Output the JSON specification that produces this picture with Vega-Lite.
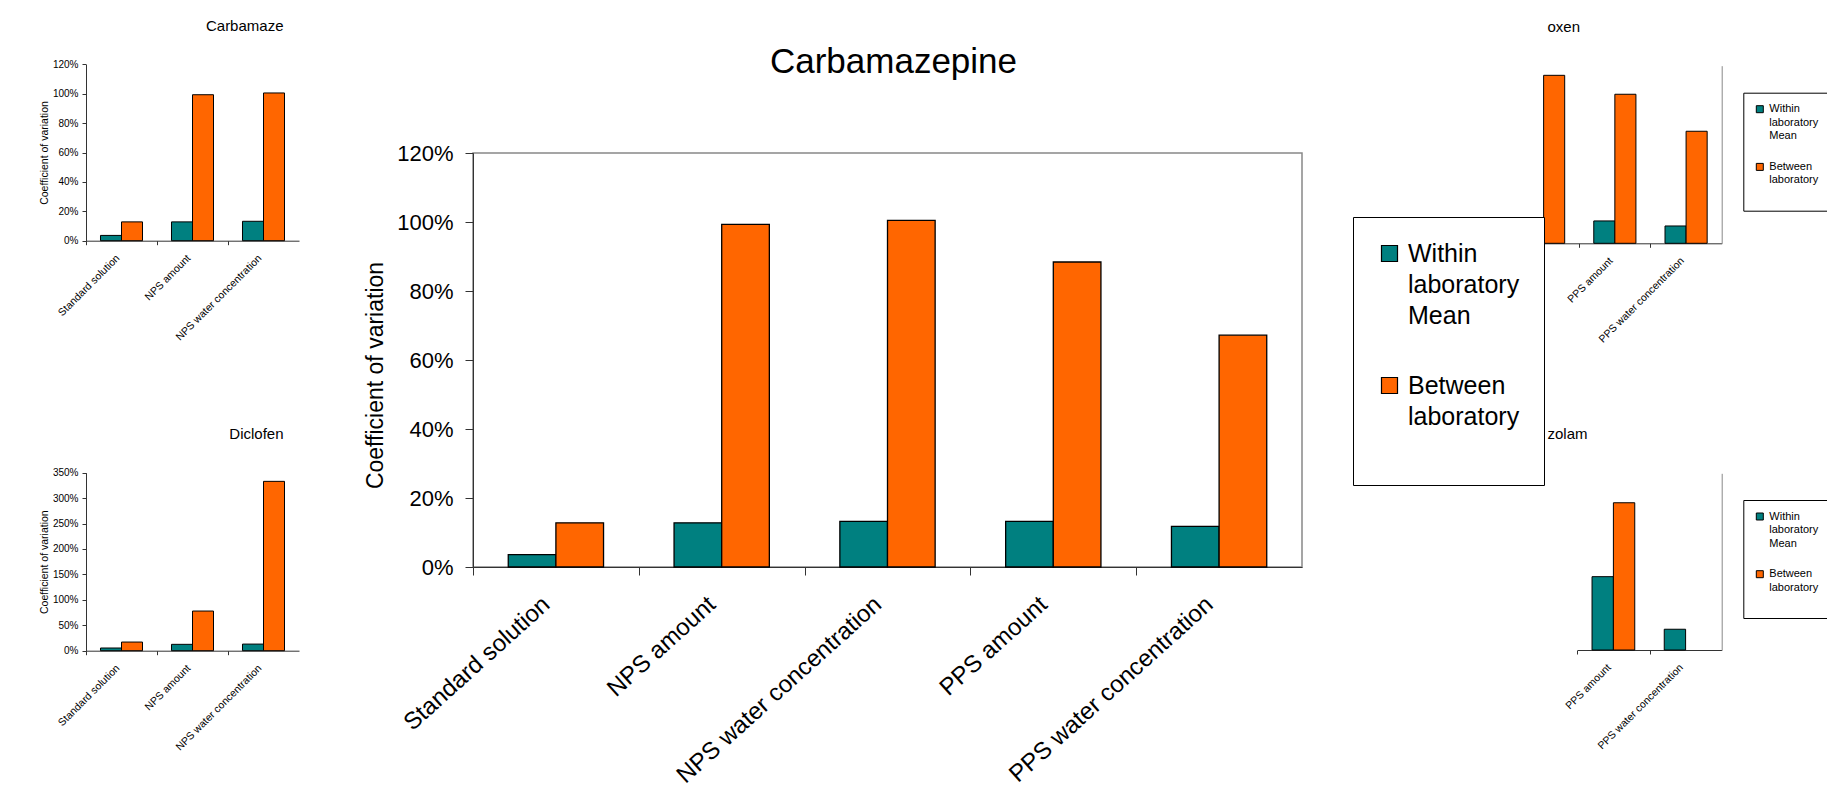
{
  "$schema": "https://vega.github.io/schema/vega-lite/v6.json",
  "autosize": {"type": "none"},
  "width": 829,
  "height": 414,
  "padding": {"left": 473, "top": 153, "right": 525, "bottom": 226},
  "background": "white",
  "config": {
    "font": "Liberation Sans",
    "view": {"stroke": "#888", "strokeWidth": 1.5}
  },
  "datasets": {
    "carbamazepine": [
      {"condition": "Standard solution", "series": "Within laboratory Mean", "cv": 0.036},
      {"condition": "Standard solution", "series": "Between laboratory", "cv": 0.128},
      {"condition": "NPS amount", "series": "Within laboratory Mean", "cv": 0.128},
      {"condition": "NPS amount", "series": "Between laboratory", "cv": 0.993},
      {"condition": "NPS water concentration", "series": "Within laboratory Mean", "cv": 0.132},
      {"condition": "NPS water concentration", "series": "Between laboratory", "cv": 1.005},
      {"condition": "PPS amount", "series": "Within laboratory Mean", "cv": 0.132},
      {"condition": "PPS amount", "series": "Between laboratory", "cv": 0.884},
      {"condition": "PPS water concentration", "series": "Within laboratory Mean", "cv": 0.118},
      {"condition": "PPS water concentration", "series": "Between laboratory", "cv": 0.672}
    ],
    "diclofenac": [
      {"condition": "Standard solution", "series": "Within laboratory Mean", "cv": 0.053},
      {"condition": "Standard solution", "series": "Between laboratory", "cv": 0.17},
      {"condition": "NPS amount", "series": "Within laboratory Mean", "cv": 0.125},
      {"condition": "NPS amount", "series": "Between laboratory", "cv": 0.78},
      {"condition": "NPS water concentration", "series": "Within laboratory Mean", "cv": 0.13},
      {"condition": "NPS water concentration", "series": "Between laboratory", "cv": 3.33}
    ],
    "right_top": [
      {"condition": "NPS water concentration", "series": "Between laboratory", "cv": 1.135},
      {"condition": "PPS amount", "series": "Within laboratory Mean", "cv": 0.151},
      {"condition": "PPS amount", "series": "Between laboratory", "cv": 1.007},
      {"condition": "PPS water concentration", "series": "Within laboratory Mean", "cv": 0.117},
      {"condition": "PPS water concentration", "series": "Between laboratory", "cv": 0.757}
    ],
    "right_bottom": [
      {"condition": "PPS amount", "series": "Within laboratory Mean", "cv": 0.498},
      {"condition": "PPS amount", "series": "Between laboratory", "cv": 1.0},
      {"condition": "PPS water concentration", "series": "Within laboratory Mean", "cv": 0.141}
    ]
  },
  "resolve": {
    "scale": {"x": "independent", "y": "independent", "xOffset": "independent", "color": "independent"},
    "axis": {"x": "independent", "y": "independent"},
    "legend": {"color": "independent"}
  },
  "layer": [
    {
      "data": {"name": "carbamazepine"},
      "mark": {"type": "bar", "stroke": "black", "strokeWidth": 1.3},
      "encoding": {
        "x": {
          "field": "condition", "type": "nominal",
          "sort": ["Standard solution", "NPS amount", "NPS water concentration", "PPS amount", "PPS water concentration"],
          "scale": {"paddingInner": 0, "paddingOuter": 0},
          "axis": {"orient": "bottom", "title": "Carbamazepine", "titleX": 420, "titleY": -494.3, "titleAlign": "center", "titleBaseline": "alphabetic", "titleFontSize": 35, "titleFontWeight": "normal", "titleColor": "black",
                   "labelAngle": -42, "labelFontSize": 24, "labelPadding": 17, "tickSize": 8, "tickOffset": -82.9, "labelOffset": 65, "labelColor": "black", "domainColor": "#333", "tickColor": "#333", "labelLimit": 600}
        },
        "xOffset": {
          "field": "series", "type": "nominal",
          "sort": ["Within laboratory Mean", "Between laboratory"],
          "scale": {"paddingInner": 0, "paddingOuter": 0.74}
        },
        "y": {
          "field": "cv", "type": "quantitative",
          "scale": {"domain": [0, 1.2], "nice": false},
          "axis": {"orient": "left", "values": [0, 0.2, 0.4, 0.6, 0.8, 1.0, 1.2], "format": ".0%", "title": "Coefficient of variation", "titleY": 222, "titleFontSize": 23, "titleFontWeight": "normal", "titleColor": "black", "titlePadding": 9, "labelFontSize": 22, "labelColor": "black", "labelPadding": 12, "tickSize": 8, "grid": false, "domainColor": "#333", "tickColor": "#333"}
        },
        "color": {
          "field": "series", "type": "nominal",
          "scale": {"domain": ["Within laboratory Mean", "Between laboratory"], "range": ["#008080", "#FF6600"]},
          "legend": {
            "orient": "none", "legendX": 880, "legendY": 64, "title": null,
            "strokeColor": "black", "fillColor": "white", "padding": 24,
            "symbolType": "square", "symbolSize": 256, "symbolStrokeColor": "black", "symbolStrokeWidth": 1.2,
            "labelFontSize": 25, "labelColor": "black", "labelOffset": 6, "labelLimit": 400, "rowPadding": 44, "labelBaseline": "middle",
            "labelExpr": "datum.label == 'Within laboratory Mean' ? ['Within', 'laboratory', 'Mean'] : ['Between', 'laboratory', '']",
            "encode": {"labels": {"update": {"lineHeight": {"value": 31}}}}
          }
        }
      }
    },
    {
      "data": {"name": "carbamazepine"},
      "transform": [{"filter": {"field": "condition", "oneOf": ["Standard solution", "NPS amount", "NPS water concentration"]}}],
      "mark": {"type": "bar", "stroke": "black", "strokeWidth": 1},
      "encoding": {
        "x": {
          "field": "condition", "type": "nominal",
          "sort": ["Standard solution", "NPS amount", "NPS water concentration"],
          "scale": {"range": [-387, -174], "paddingInner": 0, "paddingOuter": 0},
          "axis": {"orient": "bottom", "offset": -326.3, "title": "Carbamaze", "titleX": -190, "titleY": -210.7, "titleAlign": "right", "titleBaseline": "alphabetic", "titleFontSize": 15, "titleFontWeight": "normal", "titleColor": "black",
                   "labelAngle": -45, "labelFontSize": 10.5, "labelPadding": 8, "tickSize": 4, "tickOffset": -35.5, "labelOffset": 28, "labelColor": "black", "domainColor": "#333", "tickColor": "#333"}
        },
        "xOffset": {"field": "series", "type": "nominal", "sort": ["Within laboratory Mean", "Between laboratory"], "scale": {"paddingInner": 0, "paddingOuter": 0.69}},
        "y": {
          "field": "cv", "type": "quantitative",
          "scale": {"domain": [0, 1.2], "nice": false, "range": [87.7, -88.7]},
          "axis": {"orient": "left", "offset": 387, "values": [0, 0.2, 0.4, 0.6, 0.8, 1.0, 1.2], "format": ".0%", "title": "Coefficient of variation", "titleFontSize": 10.5, "titleFontWeight": "normal", "titleColor": "black", "titlePadding": 3, "labelFontSize": 10, "labelColor": "black", "labelPadding": 4, "tickSize": 4, "grid": false, "domainColor": "#333", "tickColor": "#333"}
        },
        "color": {"field": "series", "type": "nominal", "scale": {"domain": ["Within laboratory Mean", "Between laboratory"], "range": ["#008080", "#FF6600"]}, "legend": null}
      }
    },
    {
      "data": {"name": "diclofenac"},
      "mark": {"type": "bar", "stroke": "black", "strokeWidth": 1},
      "encoding": {
        "x": {
          "field": "condition", "type": "nominal",
          "sort": ["Standard solution", "NPS amount", "NPS water concentration"],
          "scale": {"range": [-387, -174], "paddingInner": 0, "paddingOuter": 0},
          "axis": {"orient": "bottom", "offset": 83.7, "title": "Diclofen", "titleX": -190, "titleY": -212.4, "titleAlign": "right", "titleBaseline": "alphabetic", "titleFontSize": 15, "titleFontWeight": "normal", "titleColor": "black",
                   "labelAngle": -45, "labelFontSize": 10.5, "labelPadding": 8, "tickSize": 4, "tickOffset": -35.5, "labelOffset": 28, "labelColor": "black", "domainColor": "#333", "tickColor": "#333"}
        },
        "xOffset": {"field": "series", "type": "nominal", "sort": ["Within laboratory Mean", "Between laboratory"], "scale": {"paddingInner": 0, "paddingOuter": 0.69}},
        "y": {
          "field": "cv", "type": "quantitative",
          "scale": {"domain": [0, 3.5], "nice": false, "range": [497.7, 319.7]},
          "axis": {"orient": "left", "offset": 387, "values": [0, 0.5, 1.0, 1.5, 2.0, 2.5, 3.0, 3.5], "format": ".0%", "title": "Coefficient of variation", "titleFontSize": 10.5, "titleFontWeight": "normal", "titleColor": "black", "titlePadding": 3, "labelFontSize": 10, "labelColor": "black", "labelPadding": 4, "tickSize": 4, "grid": false, "domainColor": "#333", "tickColor": "#333"}
        },
        "color": {"field": "series", "type": "nominal", "scale": {"domain": ["Within laboratory Mean", "Between laboratory"], "range": ["#008080", "#FF6600"]}, "legend": null}
      }
    },
    {
      "data": {"name": "right_top"},
      "mark": {"type": "bar", "stroke": "black", "strokeWidth": 1},
      "encoding": {
        "x": {
          "field": "condition", "type": "nominal",
          "scale": {"domain": ["NPS water concentration", "PPS amount", "PPS water concentration"], "range": [1035, 1248.7], "paddingInner": 0, "paddingOuter": 0},
          "axis": {"orient": "bottom", "offset": -323.7, "values": ["PPS amount", "PPS water concentration"], "title": "oxen", "titleX": 1074, "titleY": -211.6, "titleAlign": "left", "titleBaseline": "alphabetic", "titleFontSize": 15, "titleFontWeight": "normal", "titleColor": "black",
                   "labelAngle": -45, "labelFontSize": 10.5, "labelPadding": 8, "tickSize": 4, "tickOffset": -35.6, "labelOffset": 28, "labelColor": "black", "domainColor": "#333", "tickColor": "#333"}
        },
        "xOffset": {"field": "series", "type": "nominal", "scale": {"domain": ["Within laboratory Mean", "Between laboratory"], "paddingInner": 0, "paddingOuter": 0.69}},
        "y": {
          "field": "cv", "type": "quantitative",
          "scale": {"domain": [0, 1.2], "nice": false, "range": [90.3, -87.3]},
          "axis": {"orient": "right", "offset": 419.7, "ticks": false, "labels": false, "title": null, "grid": false, "domainColor": "#888"}
        },
        "color": {
          "field": "series", "type": "nominal",
          "scale": {"domain": ["Within laboratory Mean", "Between laboratory"], "range": ["#008080", "#FF6600"]},
          "legend": {
            "orient": "none", "legendX": 1270.3, "legendY": -60.3, "title": null,
            "strokeColor": "black", "fillColor": "white", "padding": 11,
            "symbolType": "square", "symbolSize": 49, "symbolStrokeColor": "black", "symbolStrokeWidth": 1,
            "labelFontSize": 11, "labelColor": "black", "labelOffset": 4, "labelLimit": 200, "rowPadding": 18.7, "labelBaseline": "middle",
            "labelExpr": "datum.label == 'Within laboratory Mean' ? ['Within', 'laboratory', 'Mean'] : ['Between', 'laboratory', '']",
            "encode": {"labels": {"update": {"lineHeight": {"value": 13.5}}}}
          }
        }
      }
    },
    {
      "data": {"name": "right_bottom"},
      "mark": {"type": "bar", "stroke": "black", "strokeWidth": 1},
      "encoding": {
        "x": {
          "field": "condition", "type": "nominal",
          "scale": {"domain": ["PPS amount", "PPS water concentration"], "range": [1104.3, 1248.7], "paddingInner": 0, "paddingOuter": 0},
          "axis": {"orient": "bottom", "offset": 83, "title": "zolam", "titleX": 1074, "titleY": -211.7, "titleAlign": "left", "titleBaseline": "alphabetic", "titleFontSize": 15, "titleFontWeight": "normal", "titleColor": "black",
                   "labelAngle": -45, "labelFontSize": 10.5, "labelPadding": 8, "tickSize": 4, "tickOffset": -36.1, "labelOffset": 28, "labelColor": "black", "domainColor": "#333", "tickColor": "#333"}
        },
        "xOffset": {"field": "series", "type": "nominal", "scale": {"domain": ["Within laboratory Mean", "Between laboratory"], "paddingInner": 0, "paddingOuter": 0.69}},
        "y": {
          "field": "cv", "type": "quantitative",
          "scale": {"domain": [0, 1.2], "nice": false, "range": [497, 320.3]},
          "axis": {"orient": "right", "offset": 419.7, "ticks": false, "labels": false, "title": null, "grid": false, "domainColor": "#888"}
        },
        "color": {
          "field": "series", "type": "nominal",
          "scale": {"domain": ["Within laboratory Mean", "Between laboratory"], "range": ["#008080", "#FF6600"]},
          "legend": {
            "orient": "none", "legendX": 1270.3, "legendY": 347, "title": null,
            "strokeColor": "black", "fillColor": "white", "padding": 11,
            "symbolType": "square", "symbolSize": 49, "symbolStrokeColor": "black", "symbolStrokeWidth": 1,
            "labelFontSize": 11, "labelColor": "black", "labelOffset": 4, "labelLimit": 200, "rowPadding": 18.7, "labelBaseline": "middle",
            "labelExpr": "datum.label == 'Within laboratory Mean' ? ['Within', 'laboratory', 'Mean'] : ['Between', 'laboratory', '']",
            "encode": {"labels": {"update": {"lineHeight": {"value": 13.5}}}}
          }
        }
      }
    }
  ]
}
